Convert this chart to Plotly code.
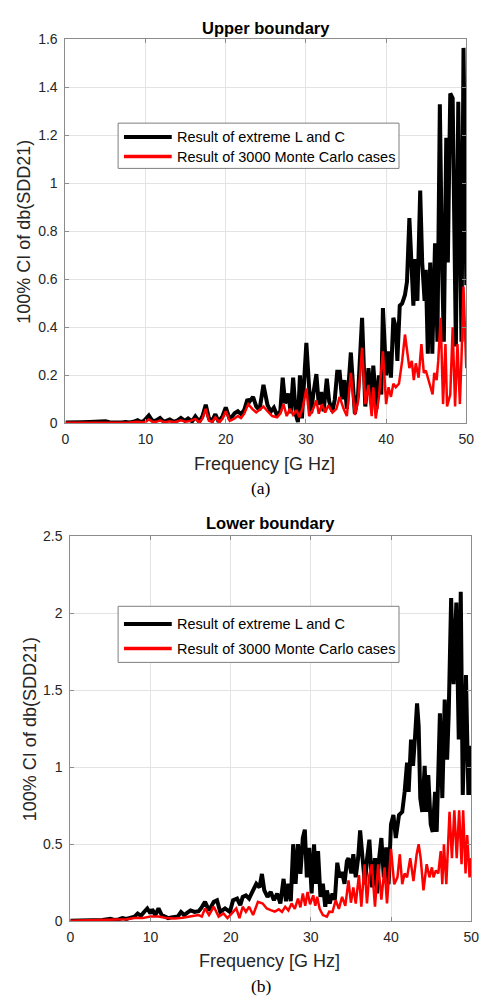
import plotly.graph_objects as go

W, H = 486, 1003

# ---------------- data ----------------
# Upper boundary – extreme L and C (black)
ub_freq = [0, 1, 2, 3, 4, 5, 5.5, 6, 7, 7.5, 8, 8.5, 9.0, 9.4, 9.8, 10.4, 10.8, 11.2, 11.8, 12.3,
           13.0, 13.5, 14.0, 14.4, 14.9, 15.3, 15.8, 16.2, 16.7, 17.1, 17.5, 17.9, 18.3, 18.7, 19.1,
           19.6, 20.0, 20.5, 21.1, 21.5, 21.9, 22.3, 22.7, 22.95, 23.4, 23.8, 24.2, 24.7, 25.2, 25.6,
           26.0, 26.4, 26.8, 27.1, 27.4, 27.8, 28.1, 28.4, 28.75, 29.0, 29.25, 29.5, 30.05, 30.4,
           30.65, 30.9, 31.3, 31.6, 31.9, 32.2, 32.6, 32.9, 33.3, 33.6, 33.9, 34.2, 34.5, 34.8, 35.1,
           35.6, 36.1, 36.5, 37.0, 37.4, 37.8, 38.2, 38.4, 38.8, 39.1, 39.4, 39.6, 40.0, 40.3, 40.6,
           40.9, 41.2, 41.4, 41.7, 42.0, 42.35, 42.6, 42.9, 43.2, 43.4, 43.6, 43.9, 44.25, 44.5, 44.8,
           44.95, 45.2, 45.5, 45.76, 46.1, 46.4, 46.7, 46.97, 47.2, 47.5, 47.7, 47.87, 48.0, 48.3,
           48.5, 48.7, 49.0, 49.25, 49.4, 49.65, 49.8, 50.0]
ub_val = [0.003, 0.002, 0.004, 0.005, 0.006, 0.008, 0.004, 0.003, 0.003, 0.005, 0.003, 0.006, 0.013,
          0.005, 0.01, 0.032, 0.012, 0.01, 0.022, 0.006, 0.016, 0.006, 0.012, 0.022, 0.01, 0.02, 0.008,
          0.028, 0.006, 0.03, 0.077, 0.02, 0.01, 0.038, 0.006, 0.03, 0.066, 0.015, 0.042, 0.05, 0.038,
          0.055, 0.1, 0.09, 0.11, 0.07, 0.055, 0.16, 0.077, 0.048, 0.065, 0.032, 0.05, 0.19, 0.083,
          0.124, 0.042, 0.19, 0.035, 0.005, 0.2, 0.02, 0.335, 0.145, 0.042, 0.118, 0.205, 0.077, 0.13,
          0.05, 0.186, 0.09, 0.05, 0.1, 0.215, 0.215, 0.1, 0.18, 0.06, 0.295, 0.04, 0.12, 0.44, 0.07,
          0.23, 0.08, 0.24, 0.06, 0.2, 0.12, 0.48, 0.2, 0.3, 0.19, 0.44, 0.4, 0.26, 0.49, 0.5, 0.535,
          0.59, 0.855, 0.67, 0.49, 0.685, 0.51, 0.97, 0.67, 0.51, 0.64, 0.29, 0.67, 0.29, 0.75, 0.34,
          1.33, 0.67, 0.34, 1.19, 0.67, 1.09, 1.375, 1.355, 0.945, 0.32, 1.34, 0.67, 0.34, 1.565,
          1.08, 0.575]

# Upper boundary – 3000 Monte Carlo cases (red)
ur_freq = [0, 1, 2, 3, 4, 5, 6, 7, 8, 9, 9.5, 10.0, 10.4, 10.9, 11.3, 11.8, 12.4, 13.0, 13.6, 14.4,
           15.0, 15.6, 16.2, 16.7, 17.1, 17.5, 17.9, 18.3, 18.7, 19.2, 19.6, 20.0, 20.5, 21.0, 21.5,
           21.9, 22.3, 22.8, 23.3, 23.8, 24.3, 24.7, 25.2, 25.8, 26.4, 26.8, 27.2, 27.6, 28.0, 28.4,
           28.8, 29.2, 29.6, 30.05, 30.4, 30.9, 31.3, 31.6, 32.0, 32.4, 32.8, 33.3, 33.8, 34.2, 34.7,
           35.1, 35.6, 36.1, 36.5, 37.0, 37.4, 37.8, 38.2, 38.4, 38.7, 39.1, 39.6, 40.0, 40.3, 40.6,
           40.9, 41.2, 41.6, 42.0, 42.35, 42.6, 42.9, 43.2, 43.45, 43.7, 44.05, 44.4, 44.7, 44.95,
           45.2, 45.5, 45.8, 46.0, 46.3, 46.5, 46.8, 47.1, 47.4, 47.6, 48.0, 48.3, 48.6, 48.9, 49.2,
           49.4, 49.65, 50.0]
ur_val = [0.002, 0.002, 0.003, 0.004, 0.004, 0.005, 0.003, 0.003, 0.003, 0.006, 0.003, 0.006, 0.016,
          0.005, 0.006, 0.011, 0.004, 0.008, 0.004, 0.012, 0.006, 0.01, 0.018, 0.004, 0.02, 0.06, 0.01,
          0.006, 0.025, 0.004, 0.02, 0.05, 0.01, 0.018, 0.03, 0.022, 0.04, 0.08, 0.06, 0.045, 0.06,
          0.07, 0.05, 0.03, 0.025, 0.04, 0.08, 0.03, 0.06, 0.035, 0.055, 0.025, 0.065, 0.145, 0.03,
          0.06, 0.095, 0.04, 0.08, 0.045, 0.075, 0.045, 0.06, 0.11, 0.06, 0.03, 0.21, 0.035, 0.09,
          0.315, 0.08, 0.16, 0.03, 0.15, 0.02, 0.11, 0.3, 0.08, 0.15, 0.11, 0.165, 0.15, 0.165, 0.26,
          0.37, 0.315, 0.23, 0.26, 0.18, 0.25, 0.19, 0.33, 0.21, 0.22, 0.19, 0.15, 0.12, 0.21, 0.18,
          0.26, 0.44, 0.08, 0.33, 0.07, 0.12, 0.4, 0.07, 0.33, 0.08, 0.27, 0.57, 0.23]

# Lower boundary – extreme L and C (black)
lb_freq = [0, 1, 2, 3, 4, 5, 5.5, 6, 6.5, 7, 7.5, 8, 8.4, 8.8, 9.2, 9.6, 10.0, 10.2, 10.6, 11.0,
           11.4, 11.8, 12.2, 12.6, 13.0, 13.4, 13.8, 14.2, 14.6, 15.0, 15.5, 16.0, 16.3, 16.8, 17.3,
           17.9, 18.3, 18.7, 19.3, 19.9, 20.3, 20.8, 21.2, 21.5, 21.9, 22.3, 22.7, 23.2, 23.6, 23.9,
           24.2, 24.6, 25.0, 25.4, 25.8, 26.2, 26.6, 26.9, 27.2, 27.5, 27.8, 28.1, 28.4, 28.7, 29.0,
           29.25, 29.5, 29.8, 30.1, 30.4, 30.65, 30.9, 31.2, 31.5, 31.8, 32.0, 32.35, 32.7, 33.0,
           33.3, 33.6, 33.9, 34.2, 34.5, 34.7, 35.05, 35.3, 35.6, 35.9, 36.15, 36.45, 36.75, 37.0,
           37.3, 37.65, 38.0, 38.25, 38.5, 38.8, 39.1, 39.4, 39.7, 40.0, 40.3, 40.6, 41.0, 41.4,
           41.7, 42.0, 42.2, 42.5, 42.75, 43.0, 43.25, 43.45, 43.65, 43.9, 44.2, 44.4, 44.65, 44.95,
           45.2, 45.5, 45.7, 46.1, 46.4, 46.7, 47.0, 47.2, 47.5, 47.8, 48.15, 48.45, 48.7, 48.95,
           49.35, 49.65, 49.85, 50.0]
lb_val = [0.003, 0.004, 0.005, 0.007, 0.008, 0.015, 0.008, 0.012, 0.02, 0.015, 0.025, 0.03, 0.05,
          0.035, 0.06, 0.083, 0.05, 0.077, 0.04, 0.083, 0.04, 0.03, 0.02, 0.025, 0.03, 0.03, 0.06,
          0.04, 0.055, 0.07, 0.06, 0.065, 0.083, 0.126, 0.07, 0.126, 0.136, 0.06, 0.083, 0.06, 0.136,
          0.147, 0.104, 0.158, 0.168, 0.147, 0.19, 0.243, 0.22, 0.307, 0.2, 0.158, 0.19, 0.136, 0.18,
          0.115, 0.275, 0.13, 0.243, 0.13, 0.5, 0.243, 0.5, 0.307, 0.54, 0.595, 0.285, 0.477, 0.18,
          0.5, 0.243, 0.456, 0.158, 0.243, 0.094, 0.2, 0.115, 0.18, 0.14, 0.38, 0.285, 0.32, 0.243,
          0.39, 0.41, 0.31, 0.435, 0.285, 0.41, 0.59, 0.41, 0.24, 0.4, 0.53, 0.22, 0.41, 0.18, 0.4,
          0.54, 0.285, 0.48, 0.24, 0.63, 0.69, 0.54, 0.69, 0.71, 0.84, 1.03, 0.84, 1.18, 1.01, 1.2,
          1.415, 1.27, 0.8, 0.71, 1.01, 0.71, 0.95, 0.63, 0.58, 0.84, 0.58, 1.35, 0.8, 1.44, 1.05,
          1.35, 2.1, 1.54, 2.07, 1.18, 2.14, 0.82, 1.6, 0.82, 1.14, 0.82]

# Lower boundary – 3000 Monte Carlo cases (red)
lr_freq = [0, 1, 2, 3, 4, 5, 6, 7, 8, 9, 10, 11, 12, 13, 14, 15, 16, 16.4, 16.8, 17.3, 17.9, 18.5,
           19.1, 19.6, 20.3, 20.7, 21.1, 21.5, 21.9, 22.3, 22.8, 23.4, 24.0, 24.5, 25.0, 25.5, 26.0,
           26.4, 26.8, 27.2, 27.6, 28.0, 28.4, 28.7, 29.0, 29.3, 29.6, 29.9, 30.3, 30.55, 30.8, 31.1,
           31.5, 32.0, 32.3, 32.7, 33.1, 33.5, 33.9, 34.3, 34.7, 35.0, 35.3, 35.6, 36.0, 36.3, 36.7,
           37.0, 37.3, 37.6, 38.0, 38.4, 38.8, 39.2, 39.5, 40.0, 40.4, 40.8, 41.1, 41.4, 41.7, 42.0,
           42.4, 42.8, 43.2, 43.45, 43.7, 44.05, 44.45, 44.8, 45.1, 45.3, 45.6, 45.9, 46.2, 46.4,
           46.6, 46.9, 47.3, 47.6, 47.9, 48.2, 48.5, 48.8, 49.0, 49.3, 49.5, 49.8, 50.0]
lr_val = [0.003, 0.004, 0.006, 0.008, 0.01, 0.012, 0.012, 0.013, 0.02, 0.02, 0.03, 0.03, 0.02, 0.018,
          0.022, 0.03, 0.04, 0.03, 0.083, 0.04, 0.094, 0.03, 0.05, 0.02, 0.062, 0.083, 0.02, 0.094,
          0.06, 0.094, 0.04, 0.126, 0.115, 0.083, 0.072, 0.062, 0.077, 0.06, 0.094, 0.07, 0.115, 0.08,
          0.147, 0.09, 0.18, 0.1, 0.19, 0.11, 0.168, 0.1, 0.158, 0.08, 0.04, 0.03, 0.062, 0.06, 0.136,
          0.08, 0.158, 0.1, 0.265, 0.12, 0.22, 0.115, 0.3, 0.094, 0.37, 0.115, 0.3, 0.37, 0.094, 0.37,
          0.14, 0.35, 0.115, 0.47, 0.24, 0.285, 0.435, 0.24, 0.31, 0.285, 0.41, 0.26, 0.435, 0.5,
          0.41, 0.2, 0.37, 0.285, 0.35, 0.285, 0.33, 0.31, 0.455, 0.24, 0.5, 0.24, 0.71, 0.41, 0.72,
          0.41, 0.72, 0.37, 0.72, 0.31, 0.56, 0.285, 0.41]

# tick labels
x_ticks = [0, 10, 20, 30, 40, 50]
x_ticklabels = ["0", "10", "20", "30", "40", "50"]
y1_ticks = [0, 0.2, 0.4, 0.6, 0.8, 1.0, 1.2, 1.4, 1.6]
y1_ticklabels = ["0", "0.2", "0.4", "0.6", "0.8", "1", "1.2", "1.4", "1.6"]
y2_ticks = [0, 0.5, 1.0, 1.5, 2.0, 2.5]
y2_ticklabels = ["0", "0.5", "1", "1.5", "2", "2.5"]

name_black = "Result of extreme L and C"
name_red = "Result of 3000 Monte Carlo cases"

# ---------------- layout helpers ----------------
def fx(px):
    return px / W

def fy(py):
    return 1 - py / H

SANS = "Liberation Sans, Arial, sans-serif"
SERIF = "Liberation Serif, Times New Roman, serif"
TXT = "#262626"
GRID = "#e3e3e3"
AX = "#8c8c8c"

fig = go.Figure()
fig.add_trace(go.Scatter(x=ub_freq, y=ub_val, mode="lines", name=name_black,
                         line=dict(color="#000000", width=4), xaxis="x", yaxis="y", showlegend=False))
fig.add_trace(go.Scatter(x=ur_freq, y=ur_val, mode="lines", name=name_red,
                         line=dict(color="#ff0000", width=2.5), xaxis="x", yaxis="y", showlegend=False))
fig.add_trace(go.Scatter(x=lb_freq, y=lb_val, mode="lines", name=name_black,
                         line=dict(color="#000000", width=4), xaxis="x2", yaxis="y2", showlegend=False))
fig.add_trace(go.Scatter(x=lr_freq, y=lr_val, mode="lines", name=name_red,
                         line=dict(color="#ff0000", width=2.5), xaxis="x2", yaxis="y2", showlegend=False))

def xaxis(domain, anchor):
    return dict(domain=domain, anchor=anchor, range=[0, 50], tickmode="array",
                tickvals=x_ticks, ticktext=x_ticklabels, showgrid=True, gridcolor=GRID,
                gridwidth=1, zeroline=False, showline=True, linecolor=AX, linewidth=1,
                mirror="ticks", ticks="inside", ticklen=4, tickcolor=AX,
                tickfont=dict(family=SANS, size=14, color=TXT), ticklabelstandoff=3)

def yaxis(domain, anchor, rng, tv, tt):
    return dict(domain=domain, anchor=anchor, range=rng, tickmode="array",
                tickvals=tv, ticktext=tt, showgrid=True, gridcolor=GRID,
                gridwidth=1, zeroline=False, showline=True, linecolor=AX, linewidth=1,
                mirror="ticks", ticks="inside", ticklen=4, tickcolor=AX,
                tickfont=dict(family=SANS, size=14, color=TXT), ticklabelstandoff=4)

# pixel boxes of the two plot areas
T_L, T_R, T_T, T_B = 63, 474, 32, 422
B_L, B_R, B_T, B_B = 68, 479, 537, 928

annotations = []
shapes = []

def text(px, py, s, size, family=SANS, color=TXT, bold=False, angle=0, xanchor="center"):
    annotations.append(dict(x=fx(px), y=fy(py), xref="paper", yref="paper", text=(f"<b>{s}</b>" if bold else s),
                            showarrow=False, xanchor=xanchor, yanchor="middle", textangle=angle,
                            font=dict(family=family, size=size, color=color)))

# titles / labels
text((T_L + T_R) / 2, 20, "Upper boundary", 16.5, bold=True, color="#000000")
text((B_L + B_R) / 2, 523, "Lower boundary", 16.5, bold=True, color="#000000")
text(267, 463, "Frequency [G Hz]", 18)
text(272, 968, "Frequency [G Hz]", 18)
text(21, (T_T + T_B) / 2, "100% CI of db(SDD21)", 18, angle=-90)
text(26, (B_T + B_B) / 2, "100% CI of db(SDD21)", 18, angle=-90)
text(264, 488, "(a)", 17.5, family=SERIF, color="#000000")
text(264, 994, "(b)", 17.5, family=SERIF, color="#000000")

# manual legends
def legend(x0, y0, x1, y1, row1, row2):
    shapes.append(dict(type="rect", xref="paper", yref="paper", x0=fx(x0), x1=fx(x1), y0=fy(y0), y1=fy(y1),
                       line=dict(color="#7f7f7f", width=1), fillcolor="white", layer="above"))
    shapes.append(dict(type="line", xref="paper", yref="paper", x0=fx(123), x1=fx(172), y0=fy(row1), y1=fy(row1),
                       line=dict(color="#000000", width=4), layer="above"))
    shapes.append(dict(type="line", xref="paper", yref="paper", x0=fx(123), x1=fx(172), y0=fy(row2), y1=fy(row2),
                       line=dict(color="#ff0000", width=3.5), layer="above"))
    text(175.5, row1, name_black, 14.5, color="#000000", xanchor="left")
    text(175.5, row2, name_red, 14.5, color="#000000", xanchor="left")

legend(117, 117, 405, 163, 131, 151)
legend(117, 608, 405, 665, 626, 651)

fig.update_layout(
    width=W, height=H,
    margin=dict(l=0, r=0, t=0, b=0),
    paper_bgcolor="white", plot_bgcolor="white",
    showlegend=False,
    xaxis=xaxis([fx(T_L), fx(T_R)], "y"),
    yaxis=yaxis([fy(T_B), fy(T_T)], "x", [0, 1.6], y1_ticks, y1_ticklabels),
    xaxis2=xaxis([fx(B_L), fx(B_R)], "y2"),
    yaxis2=yaxis([fy(B_B), fy(B_T)], "x2", [0, 2.5], y2_ticks, y2_ticklabels),
    annotations=annotations,
    shapes=shapes,
)

fig.write_html("out.html")
